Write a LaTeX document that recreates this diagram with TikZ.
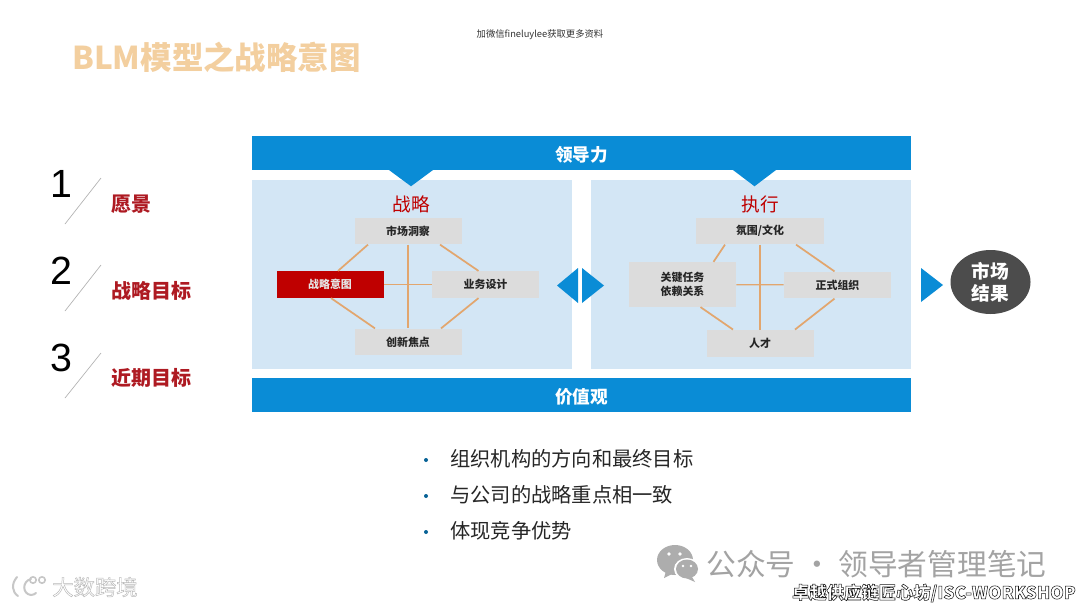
\documentclass[tikz,border=0pt]{standalone}
\usepackage{fontspec}
\setmainfont{Noto Sans CJK SC}
\newfontfamily\digitfont{Liberation Sans}
\usetikzlibrary{calc,shapes.geometric}
\definecolor{barblue}{HTML}{0A8CD6}
\definecolor{panelblue}{HTML}{D3E6F5}
\definecolor{boxgray}{HTML}{DCDCDC}
\definecolor{linkorange}{HTML}{E2A66E}
\definecolor{darkred}{HTML}{AE1A22}
\definecolor{titleorange}{HTML}{F3CF9F}
\newcommand{\outlined}[3]{\special{pdf:code q 2 Tr #1 w #2 RG #3 rg}}
\tikzset{
  x=0.75pt,y=-0.75pt,
  bar/.style={fill=barblue,draw=none,minimum width=494.25pt,minimum height=25.5pt,inner sep=0,text=white,text height=12.6pt,text depth=0pt,font=\fontsize{13.2}{14}\selectfont\bfseries},
  panel/.style={fill=panelblue,draw=none,minimum width=240pt,minimum height=141.75pt,inner sep=0},
  cell/.style={fill=boxgray,draw=none,minimum width=80.25pt,minimum height=20pt,inner sep=0,align=center,text=black!85,font=\fontsize{8.2}{11}\selectfont\bfseries},
  redcell/.style={cell,fill=red!75!black,text=white!90!black},
  link/.style={draw=linkorange,line width=1.3pt},
  tick/.style={draw=black!30,line width=0.5pt},
  num/.style={font=\digitfont\fontsize{29.5}{32}\selectfont,inner sep=0,text=black},
  goal/.style={font=\fontsize{15}{17}\selectfont\bfseries,text=darkred,inner sep=0,anchor=west},
  head/.style={font=\fontsize{14}{16}\selectfont,text=red!75!black,inner sep=0},
  bullet/.style={font=\fontsize{15.2}{18}\selectfont,text=black!85,inner sep=0,anchor=west},
  dot/.style={circle,fill=barblue!70!black,inner sep=0,minimum size=3pt},
  tipfill/.style={fill=barblue,draw=none},
  logoline/.style={draw=black!22,line width=1.5pt,line cap=round}
}
\begin{document}
\begin{tikzpicture}
\useasboundingbox[fill=white] (0,0) rectangle (1080,607);
% title and header note
\node[anchor=west,inner sep=0,text=titleorange,font=\fontsize{23.6}{26}\selectfont\bfseries] (title) at (72,57) {BLM模型之战略意图};
\node[inner sep=0,text=black!80,font=\fontsize{7}{8}\selectfont] (note) at (540,35) {加微信fineluylee获取更多资料};
% left list
\node[num] (n1) at (61,184) {1};
\node[num] (n2) at (61,271) {2};
\node[num] (n3) at (61,358) {3};
\coordinate (t1a) at (101,178); \coordinate (t1b) at (65,224);
\coordinate (t2a) at (101,265); \coordinate (t2b) at (65,311);
\coordinate (t3a) at (101,353); \coordinate (t3b) at (65,398);
\draw[tick] (t1a) -- (t1b);
\draw[tick] (t2a) -- (t2b);
\draw[tick] (t3a) -- (t3b);
\node[goal] (g1) at (111,204) {愿景};
\node[goal] (g2) at (111,291) {战略目标};
\node[goal] (g3) at (111,378) {近期目标};
% panels
\node[panel] (pl) at (412,274.5) {};
\node[panel] (pr) at (751,274.5) {};
% bars
\node[bar] (lead) at (581.5,153) {领导力};
\node[bar] (vals) at (581.5,395) {价值观};
\fill[tipfill] ($(lead.south)+(-193.5,-1)$) -- ++(46,0) -- ++(-23,17) -- cycle;
\fill[tipfill] ($(lead.south)+(150.5,-1)$) -- ++(45,0) -- ++(-22.5,17) -- cycle;
% panel headings
\node[head] (hs) at (411,204) {战略};
\node[head] (he) at (760,204) {执行};
% strategy cells
\node[cell] (mk) at (408,231) {市场洞察};
\node[redcell] (si) at (330,284.5) {战略意图};
\node[cell] (bd) at (485.5,284.5) {业务设计};
\node[cell] (fc) at (408,342) {创新焦点};
\draw[link] ($(mk.south)+(-40,0)$) -- ($(si.north)+(8,0)$);
\draw[link] ($(mk.south)+(32,0)$) -- ($(bd.north)+(-7,0)$);
\draw[link] ($(si.south)+(1,0)$) -- ($(fc.north)+(-33,0)$);
\draw[link] ($(bd.south)+(-7,0)$) -- ($(fc.north)+(33,0)$);
\draw[link,line width=1.5pt] (mk) -- (fc);
\draw[link,line width=0.9pt] (si) -- (bd);
% execution cells
\node[cell,minimum width=96pt] (cu) at (760,231) {氛围/文化};
\node[cell,minimum height=33.5pt] (kt) at (682.5,284.5) {关键任务\\依赖关系};
\node[cell] (fo) at (837.5,285) {正式组织};
\node[cell,minimum height=20.5pt] (ta) at (760,343.5) {人才};
\draw[link] ($(cu.south)+(-35,0)$) -- ($(kt.north)+(31,0)$);
\draw[link] ($(cu.south)+(36,0)$) -- ($(fo.north)+(-3,0)$);
\draw[link] ($(kt.south)+(18,0)$) -- ($(ta.north)+(-27,0)$);
\draw[link] ($(fo.south)+(-3,0)$) -- ($(ta.north)+(35,0)$);
\draw[link,line width=1.5pt] (cu) -- (ta);
\draw[link,line width=0.9pt] (kt) -- (fo);
% exchange arrows
\coordinate (ea) at (578,268);
\coordinate (eb) at (582,268);
\fill[tipfill] (ea) -- ++(0,35) -- ++(-21,-17.5) -- cycle;
\fill[tipfill] (eb) -- ++(0,35) -- ++(22,-17.5) -- cycle;
% result
\node[ellipse,fill=black!70,draw=none,minimum width=60pt,minimum height=48pt,inner sep=0,align=center,text=white,font=\fontsize{14}{16.5}\selectfont\bfseries] (res) at (990.5,282) {市场\\结果};
\coordinate (ra) at (921,268);
\fill[tipfill] (ra) -- ++(0,34) -- ++(22,-17) -- cycle;
% bullets
\node[dot] (d1) at (426,460) {};
\node[dot] (d2) at (426,496) {};
\node[dot] (d3) at (426,532) {};
\node[bullet] (b1) at (450,459) {组织机构的方向和最终目标};
\node[bullet] (b2) at (450,495) {与公司的战略重点相一致};
\node[bullet] (b3) at (450,531) {体现竞争优势};
% watermarks
\fill[black!32] (675,560) ellipse (18 and 15);
\fill[black!32] (666,571) -- (664,578) -- (672,574) -- cycle;
\fill[white] (687,569) ellipse (13 and 11);
\fill[black!32] (687,569) ellipse (11 and 9.5);
\fill[black!32] (692,577) -- (695,582) -- (686,578) -- cycle;
\fill[white] (669,554) circle (1.8) (680,554) circle (1.8) (683,566) circle (1.3) (691,566) circle (1.3);
\node[anchor=west,inner sep=0,text=black!36,font=\fontsize{22.3}{26}\selectfont] (wm) at (706,564) {公众号 · 领导者管理笔记};
\draw[logoline] (17,577) .. controls (11,584) and (12,592) .. (18,596);
\draw[logoline] (31,579) .. controls (22,581) and (22,594) .. (31,595) .. controls (33,595) and (35,594) .. (36,593);
\draw[logoline,line width=1.2pt] (33,580) circle (3.2);
\draw[logoline,line width=1.2pt] (42,580) circle (3.2);
\node[anchor=west,inner sep=0,font=\fontsize{16}{18}\selectfont] (wl) at (52,587) {\outlined{0.35}{0.72 0.72 0.72}{1 1 1}大数跨境\special{pdf:code Q}};
\node[anchor=east,inner sep=0,font=\fontsize{13}{15}\selectfont\bfseries] (wr) at (1076,593) {\outlined{0.4}{0.1 0.1 0.1}{1 1 1}卓越供应链匠心坊/ISC-WORKSHOP\special{pdf:code Q}};
\end{tikzpicture}
\end{document}
